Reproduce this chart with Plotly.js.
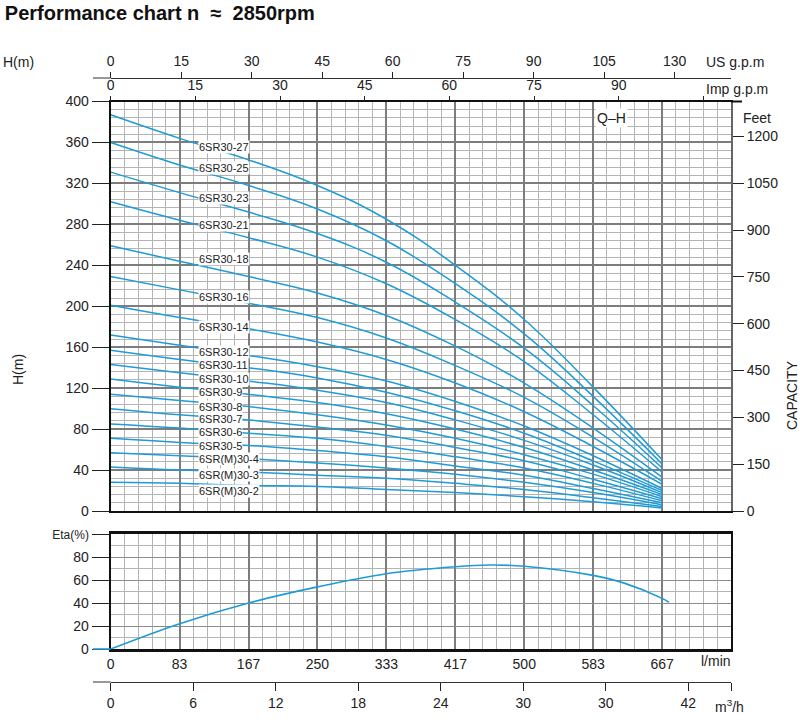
<!DOCTYPE html>
<html><head><meta charset="utf-8">
<script src="https://cdn.plot.ly/plotly-3.0.1.min.js"></script>
<style>html,body{margin:0;padding:0;background:#fff}</style>
</head><body><div id="chart" style="width:800px;height:725px"></div>
<script>
// ---- data ----
const flowLmin = [0, 83.3, 166.7, 250, 333.3, 416.7, 500, 583.3, 666.7];
const modelNames = ['6SR30-27','6SR30-25','6SR30-23','6SR30-21','6SR30-18','6SR30-16','6SR30-14',
  '6SR30-12','6SR30-11','6SR30-10','6SR30-9','6SR30-8','6SR30-7','6SR30-6','6SR30-5',
  '6SR(M)30-4','6SR(M)30-3','6SR(M)30-2'];
const h27 = [387, 364, 343, 318, 285, 240, 187, 121, 50];
const h25 = [360, 338, 318, 295, 264, 222, 173, 112, 46];
const h23 = [331, 311, 292, 271, 243, 204, 159, 103, 42];
const h21 = [302, 284, 267, 248, 222, 187, 146, 94, 38];
const h18 = [259, 244, 229, 213, 191, 161, 125, 81, 33];
const h16 = [229, 216, 203, 189, 169, 142, 111, 72, 29];
const h14 = [201, 189, 178, 165, 148, 125, 97, 63, 26];
const h12 = [172, 162, 152, 141, 127, 107, 83, 54, 22];
const h11 = [157, 148, 140, 130, 116, 98, 76, 49, 20];
const h10 = [143, 135, 127, 118, 106, 89, 69, 45, 18];
const h9  = [129, 121, 114, 106, 95, 80, 62, 40, 16];
const h8  = [114, 108, 102, 94, 84, 71, 55, 36, 14];
const h7  = [100, 94, 89, 82, 74, 62, 49, 31, 12];
const h6  = [85, 81, 76, 71, 63, 53, 42, 27, 10];
const h5  = [71, 67, 64, 59, 53, 44, 35, 22, 8];
const h4  = [57, 54, 51, 47, 42, 36, 28, 18, 6];
const h3  = [43, 40, 38, 35, 32, 27, 21, 13, 4.5];
const h2  = [28, 27, 25, 24, 21, 18, 14, 9, 3];
const headCurves = [h27,h25,h23,h21,h18,h16,h14,h12,h11,h10,h9,h8,h7,h6,h5,h4,h3,h2];

const flowEta = [0, 83.3, 166.7, 250, 333.3, 416.7, 458, 500, 583.3, 620, 666.7, 675];
const etaPct  = [0, 22, 40, 54, 65.5, 71.5, 73, 72, 64, 57.5, 44, 40.5];

// tick labels
const hTicks = [0,40,80,120,160,200,240,280,320,360,400];
const feetTicks = [0,150,300,450,600,750,900,1050,1200];
const usTickVals = [0,15,30,45,60,75,90,105,120];
const usTickText = ['0','15','30','45','60','75','90','105','130'];
const impTickVals = [0,15,30,45,60,75,90];
const impTickText = ['0','15','30','45','60','75','90'];
const impExtraTick = [105];
const lminTickVals = [0,83.333,166.667,250,333.333,416.667,500,583.333,666.667];
const lminTickText = ['0','83','167','250','333','417','500','583','667'];
const m3hTickVals = [0,6,12,18,24,30,36,42];
const m3hTickText = ['0','6','12','18','24','30','30','42'];
const m3hExtraTick = [45.1];
const etaTickVals = [0,20,40,60,80,100];
const etaTickText = ['0','20','40','60','80','<span style="font-size:12px">Eta(%)</span>'];

// label anchor heads (positions of the curve captions)
const labelHeads = [356,335,306,279,246,209,180,155,142.5,129,116.5,102,89.5,77,63.5,51,35,20];

// ---- styles ----
const FONT = 'Liberation Sans, Arial, Helvetica, sans-serif';
const CURVE = '#1f9bd6';
const MAJ = '#7d7d7d';
const MIN = '#b4b4b4';
const px = v => v / 800;
const py = v => 1 - v / 725;

const traces = [];
headCurves.forEach((h, i) => {
  traces.push({type:'scatter', mode:'lines', x:flowLmin, y:h, xaxis:'x', yaxis:'y',
    line:{color:CURVE, width:1.5, shape:'spline', smoothing:1.2}, hoverinfo:'skip', showlegend:false, name:modelNames[i]});
});
traces.push({type:'scatter', mode:'lines', x:flowEta, y:etaPct, xaxis:'x4', yaxis:'y3',
  line:{color:CURVE, width:1.6, shape:'spline', smoothing:1}, hoverinfo:'skip', showlegend:false});
// dummy traces so that the secondary axes register
traces.push({type:'scatter', mode:'none', x:[0], y:[0], xaxis:'x2', yaxis:'y', hoverinfo:'skip', showlegend:false});
traces.push({type:'scatter', mode:'none', x:[0], y:[0], xaxis:'x3', yaxis:'y', hoverinfo:'skip', showlegend:false});
traces.push({type:'scatter', mode:'none', x:[0], y:[0], xaxis:'x', yaxis:'y2', hoverinfo:'skip', showlegend:false});
traces.push({type:'scatter', mode:'none', x:[0], y:[0], xaxis:'x5', yaxis:'y3', hoverinfo:'skip', showlegend:false});

const xDom = [px(110.7), px(731)];
const tickFont = {family:FONT, size:14, color:'#222'};

const annotations = [];
modelNames.forEach((n, i) => {
  annotations.push({xref:'x', yref:'y', x:105, y:labelHeads[i], text:n, showarrow:false,
    xanchor:'left', yanchor:'middle', bgcolor:'#fff', borderpad:0,
    font:{family:FONT, size:11, color:'#222'}});
});
const txt = (x, y, t, xa, opts) => Object.assign({xref:'paper', yref:'paper', x:px(x), y:py(y), text:t,
  showarrow:false, xanchor:xa, yanchor:'middle', font:{family:FONT, size:14, color:'#222'}}, opts || {});
annotations.push(txt(18, 62, 'H(m)', 'center'));
annotations.push(txt(704, 62, 'US g.p.m', 'left'));
annotations.push(txt(704, 89, 'Imp g.p.m', 'left'));
annotations.push(txt(757, 118, 'Feet', 'center'));
annotations.push(txt(611, 118, 'Q–H', 'center', {bgcolor:'#fff', borderpad:1}));
annotations.push(txt(18, 370, 'H(m)', 'center', {textangle:-90}));
annotations.push(txt(792, 395, 'CAPACITY', 'center', {textangle:-90}));
annotations.push(txt(699, 661, 'l/min', 'left'));
annotations.push(txt(713, 706, 'm<sup>3</sup>/h', 'left'));

const shapes = [
  {type:'line', xref:'paper', yref:'paper', x0:px(93), x1:px(110.7), y0:py(78), y1:py(78), line:{color:'#333', width:1}},
  {type:'line', xref:'paper', yref:'paper', x0:px(731), x1:px(742), y0:py(101.5), y1:py(101.5), line:{color:'#111', width:2}},
  {type:'line', xref:'paper', yref:'paper', x0:px(93), x1:px(110.7), y0:py(682), y1:py(682), line:{color:'#333', width:1}},
  {type:'line', xref:'paper', yref:'paper', x0:px(93), x1:px(110.7), y0:py(649), y1:py(649), line:{color:CURVE, width:1.6}}
];

const layout = {
  width:800, height:725,
  margin:{l:0, r:0, t:0, b:0, pad:0},
  paper_bgcolor:'#fff', plot_bgcolor:'#fff',
  showlegend:false, dragmode:false, hovermode:false,
  title:{text:'<b>Performance chart n&nbsp;&nbsp;≈&nbsp;&nbsp;2850rpm</b>', x:0.006, xanchor:'left', y:1 - 13/725, yanchor:'middle',
    font:{family:FONT, size:20, color:'#111'}},
  xaxis:{domain:xDom, anchor:'y', range:[0,750], tickmode:'linear', tick0:0, dtick:83.3333,
    showticklabels:false, ticks:'', showgrid:true, gridcolor:MAJ, gridwidth:2,
    minor:{tick0:0, dtick:16.6667, showgrid:true, gridcolor:MIN, gridwidth:1},
    showline:true, mirror:true, linecolor:'#111', linewidth:2, zeroline:false, fixedrange:true},
  xaxis2:{overlaying:'x', anchor:'y', side:'top', range:[0,109.9], tickmode:'array',
    tickvals:impTickVals, ticktext:impTickText, ticks:'outside', ticklen:5, tickcolor:'#222', tickwidth:1,
    minor:{tickmode:'array', tickvals:impExtraTick, ticks:'outside', ticklen:5, tickcolor:'#222', tickwidth:1, showgrid:false},
    showgrid:false, showline:false, zeroline:false, tickfont:tickFont, fixedrange:true},
  xaxis3:{overlaying:'x', anchor:'free', position:py(78), side:'top', range:[0,132], tickmode:'array',
    tickvals:usTickVals, ticktext:usTickText, ticks:'outside', ticklen:6, tickcolor:'#222', tickwidth:1,
    showgrid:false, showline:true, linecolor:'#333', linewidth:1, zeroline:false, tickfont:tickFont, fixedrange:true},
  yaxis:{domain:[py(511), py(101.5)], anchor:'x', range:[0,400], tickmode:'array', tickvals:hTicks,
    ticks:'outside', ticklen:17, tickcolor:'#222', tickwidth:1,
    showgrid:true, gridcolor:MAJ, gridwidth:2,
    minor:{tick0:0, dtick:8, showgrid:true, gridcolor:MIN, gridwidth:1},
    showline:true, linecolor:'#111', linewidth:2, zeroline:false, tickfont:tickFont, fixedrange:true},
  yaxis2:{overlaying:'y', anchor:'x', side:'right', range:[0, 400/0.3048], tickmode:'array', tickvals:feetTicks,
    ticks:'outside', ticklen:11, tickcolor:'#222', tickwidth:1, showgrid:false,
    showline:true, linecolor:'#666', linewidth:2, zeroline:false, tickfont:tickFont, fixedrange:true},
  xaxis4:{domain:xDom, anchor:'y3', range:[0,750], tickmode:'array', tickvals:lminTickVals, ticktext:lminTickText,
    ticks:'', showgrid:true, gridcolor:MAJ, gridwidth:2,
    minor:{tick0:0, dtick:16.6667, showgrid:true, gridcolor:MIN, gridwidth:1},
    showline:true, mirror:true, linecolor:'#111', linewidth:3, zeroline:false, tickfont:tickFont, fixedrange:true},
  xaxis5:{overlaying:'x4', anchor:'free', position:py(682), side:'bottom', range:[0,45.1], tickmode:'array',
    tickvals:m3hTickVals, ticktext:m3hTickText, ticks:'outside', ticklen:8, tickcolor:'#222', tickwidth:1,
    minor:{tickmode:'array', tickvals:m3hExtraTick, ticks:'outside', ticklen:8, tickcolor:'#222', tickwidth:1, showgrid:false},
    showgrid:false, showline:true, linecolor:'#333', linewidth:1, zeroline:false, tickfont:tickFont, fixedrange:true},
  yaxis3:{domain:[py(649), py(534)], anchor:'x4', range:[0,100], tickmode:'array', tickvals:etaTickVals, ticktext:etaTickText,
    ticks:'outside', ticklen:17, tickcolor:'#222', tickwidth:1,
    showgrid:true, gridcolor:'#8c8c8c', gridwidth:1,
    minor:{tick0:0, dtick:10, showgrid:true, gridcolor:MIN, gridwidth:1},
    showline:true, mirror:true, linecolor:'#111', linewidth:2, zeroline:false, tickfont:tickFont, fixedrange:true},
  annotations:annotations,
  shapes:shapes
};

Plotly.newPlot('chart', traces, layout, {displayModeBar:false, responsive:false});
</script>
</body></html>
